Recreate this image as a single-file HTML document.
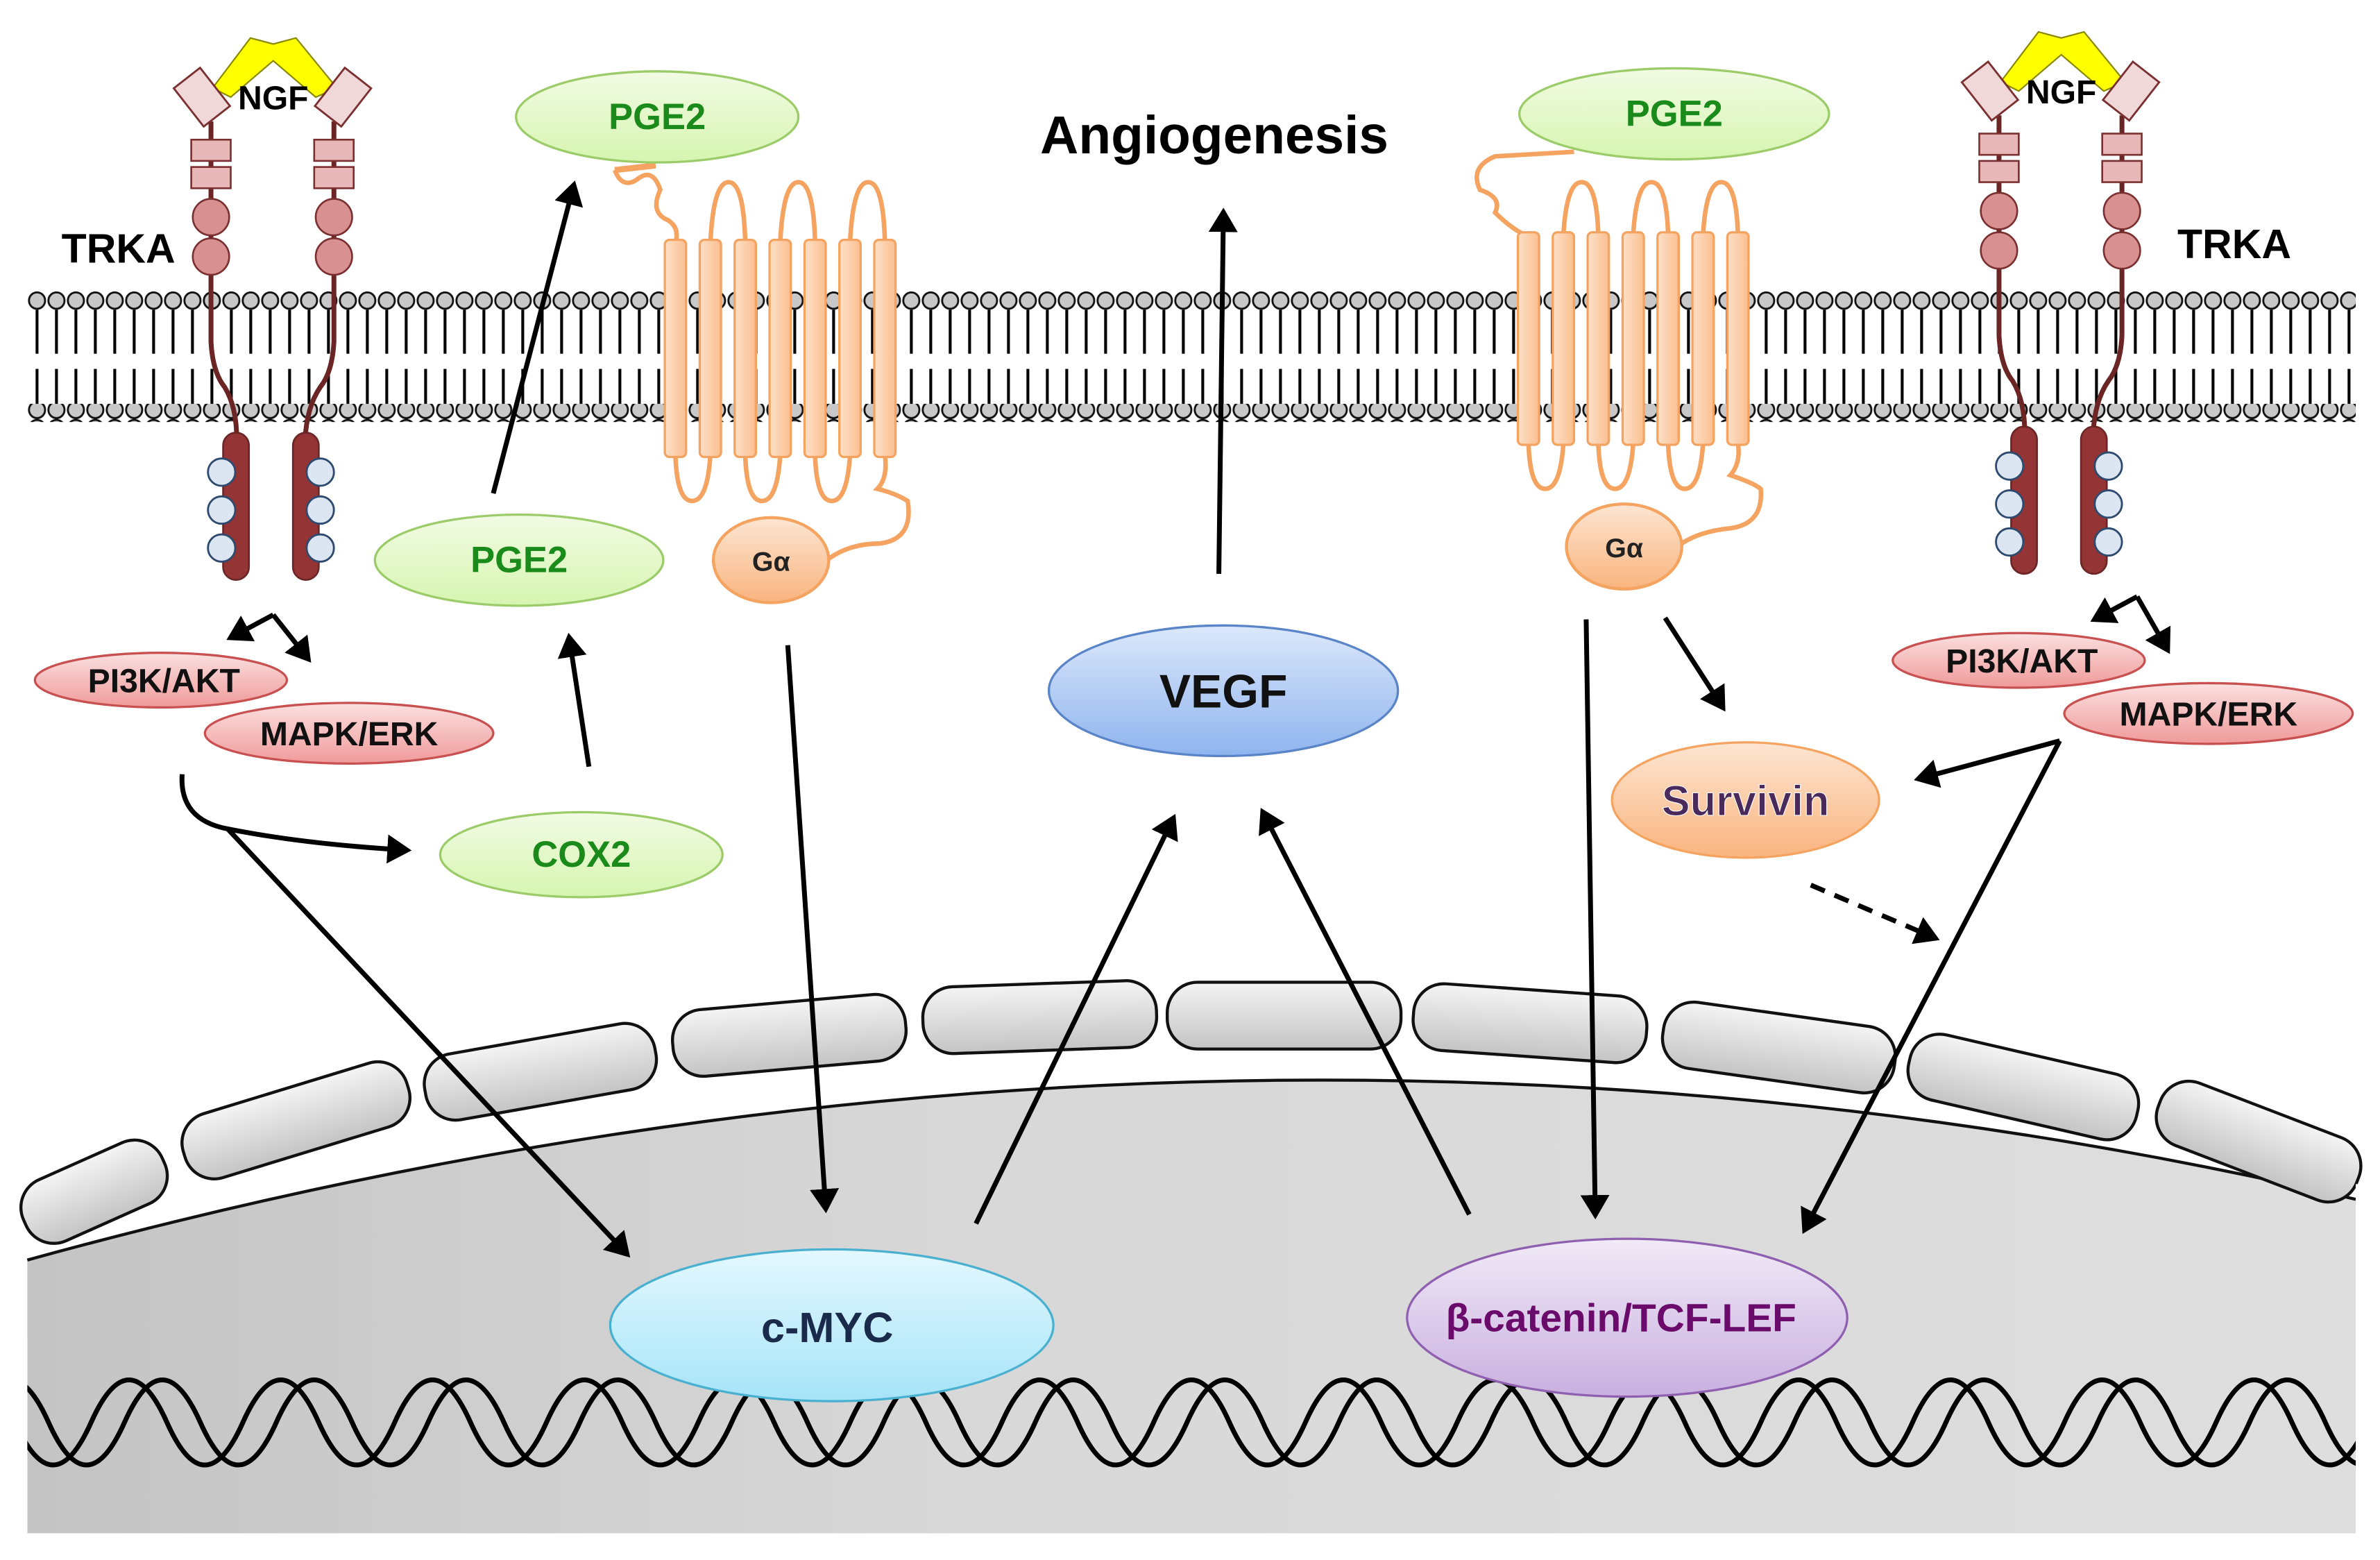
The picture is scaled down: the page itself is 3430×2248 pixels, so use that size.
<!DOCTYPE html>
<html><head><meta charset="utf-8"><style>
html,body{margin:0;padding:0;background:#fff;}
svg{display:block;}
text{font-family:"Liberation Sans",sans-serif;font-weight:bold;}
</style></head><body>
<svg width="3430" height="2248" viewBox="0 0 1568 1027.6" preserveAspectRatio="none" xmlns="http://www.w3.org/2000/svg">
<defs>
<pattern id="heads" x="18" y="192" width="12.8" height="12" patternUnits="userSpaceOnUse">
<ellipse cx="6.4" cy="6" rx="5.3" ry="5.4" fill="#c8c8c8" stroke="#111" stroke-width="1.3"/></pattern>
<pattern id="tails" x="18" y="0" width="12.8" height="200" patternUnits="userSpaceOnUse">
<line x1="6.4" y1="0" x2="6.4" y2="200" stroke="#000" stroke-width="1.9"/></pattern>
<linearGradient id="gG" x1="0" y1="0" x2="0" y2="1"><stop offset="0" stop-color="#f2fbe4"/><stop offset="1" stop-color="#d6f5b0"/></linearGradient>
<linearGradient id="gB" x1="0" y1="0" x2="0" y2="1"><stop offset="0" stop-color="#dce8fb"/><stop offset="1" stop-color="#8fb4ee"/></linearGradient>
<linearGradient id="gC" x1="0" y1="0" x2="0" y2="1"><stop offset="0" stop-color="#e4f8fe"/><stop offset="1" stop-color="#a6e4f8"/></linearGradient>
<linearGradient id="gP" x1="0" y1="0" x2="0" y2="1"><stop offset="0" stop-color="#f1eaf7"/><stop offset="1" stop-color="#c9b0e0"/></linearGradient>
<linearGradient id="gO" x1="0" y1="0" x2="0" y2="1"><stop offset="0" stop-color="#fde5d2"/><stop offset="1" stop-color="#f9b47e"/></linearGradient>
<linearGradient id="gR" x1="0" y1="0" x2="0" y2="1"><stop offset="0" stop-color="#fbe0e0"/><stop offset="1" stop-color="#f09a9a"/></linearGradient>
<linearGradient id="gOr" x1="0" y1="0" x2="1" y2="0"><stop offset="0" stop-color="#fde0c8"/><stop offset="1" stop-color="#fbbf90"/></linearGradient>
<linearGradient id="gN" x1="0" y1="0" x2="1" y2="0"><stop offset="0" stop-color="#c4c4c4"/><stop offset="0.4" stop-color="#d8d8d8"/><stop offset="1" stop-color="#dedede"/></linearGradient>
<linearGradient id="gS" x1="0" y1="0" x2="0" y2="1"><stop offset="0" stop-color="#f4f4f4"/><stop offset="1" stop-color="#c4c4c4"/></linearGradient>
<marker id="ar" markerWidth="6" markerHeight="6" refX="4" refY="3" orient="auto" markerUnits="strokeWidth"><path d="M0,0 L5,3 L0,6 Z" fill="#000"/></marker>
</defs>

<path d="M18,830 Q800,615 1552,790 L1552,1010 L18,1010 Z" fill="url(#gN)"/>
<path d="M18,830 Q800,615 1552,790" fill="none" stroke="#111" stroke-width="2"/>
<g fill="url(#gS)" stroke="#111" stroke-width="2">
<rect x="-50" y="-22" width="100" height="44" rx="20" transform="translate(62,785) rotate(-24)"/>
<rect x="-77" y="-22" width="154" height="44" rx="20" transform="translate(195,738) rotate(-17)"/>
<rect x="-77" y="-22" width="154" height="44" rx="20" transform="translate(356,706) rotate(-10)"/>
<rect x="-77" y="-22" width="154" height="44" rx="20" transform="translate(520,682) rotate(-5)"/>
<rect x="-77" y="-22" width="154" height="44" rx="20" transform="translate(685,670) rotate(-2)"/>
<rect x="-77" y="-22" width="154" height="44" rx="20" transform="translate(846,669) rotate(0)"/>
<rect x="-77" y="-22" width="154" height="44" rx="20" transform="translate(1008,674) rotate(4)"/>
<rect x="-77" y="-22" width="154" height="44" rx="20" transform="translate(1172,690) rotate(8)"/>
<rect x="-77" y="-22" width="154" height="44" rx="20" transform="translate(1333,716) rotate(13)"/>
<rect x="-70" y="-22" width="140" height="44" rx="20" transform="translate(1488,752) rotate(21)"/>
</g>
<path id="dna1" fill="none" stroke="#000" stroke-width="3.2"/>
<path id="dna2" fill="none" stroke="#000" stroke-width="3.2"/>
<rect x="0" y="1010" width="1568" height="20" fill="#fff"/>
<rect x="0" y="880" width="18" height="140" fill="#fff"/>
<rect x="1552" y="780" width="20" height="240" fill="#fff"/>

<rect x="18" y="204" width="1534" height="29" fill="url(#tails)"/>
<rect x="18" y="243" width="1534" height="25" fill="url(#tails)"/>
<rect x="18" y="192" width="1534" height="12" fill="url(#heads)"/>
<rect x="18" y="266" width="1534" height="12" fill="url(#heads)"/>

<g fill="none" stroke="#f4a460" stroke-width="3">
<path d="M405,112 Q410,125 420,118 Q430,110 435,125 Q428,140 440,145 Q448,150 445,160"/>
<path d="M468,160 Q470,120 480,120 Q490,120 491,160"/><path d="M514,160 Q516,120 526,120 Q536,120 537,160"/><path d="M560,160 Q562,120 572,120 Q582,120 583,160"/>
<path d="M445,300 Q446,330 456,330 Q466,330 468,300"/><path d="M491,300 Q492,330 502,330 Q512,330 514,300"/><path d="M537,300 Q538,330 548,330 Q558,330 560,300"/>
<path d="M583,300 Q585,315 578,322 Q590,325 598,330 Q602,355 580,358 Q560,358 546,368"/>
</g>
<path d="M405,112 L432,109" stroke="#f4a460" stroke-width="4"/>
<g fill="url(#gOr)" stroke="#f4a460" stroke-width="1.5">
<rect x="438" y="158" width="14" height="143" rx="3"/><rect x="461" y="158" width="14" height="143" rx="3"/><rect x="484" y="158" width="14" height="143" rx="3"/><rect x="507" y="158" width="14" height="143" rx="3"/><rect x="530" y="158" width="14" height="143" rx="3"/><rect x="553" y="158" width="14" height="143" rx="3"/><rect x="576" y="158" width="14" height="143" rx="3"/>
</g>
<ellipse cx="508" cy="369" rx="38" ry="28" fill="url(#gO)" stroke="#f4a460" stroke-width="2"/>
<text x="508" y="376" font-size="18" text-anchor="middle" fill="#222">Gα</text>

<g fill="none" stroke="#f4a460" stroke-width="3">
<path d="M1037,100 L985,103 Q968,110 975,125 Q990,130 985,140 Q995,150 1005,155"/>
<path d="M1030,155 Q1032,120 1042,120 Q1052,120 1053,155"/><path d="M1076,155 Q1078,120 1088,120 Q1098,120 1099,155"/><path d="M1122,155 Q1124,120 1134,120 Q1144,120 1145,155"/>
<path d="M1007,292 Q1008,322 1018,322 Q1028,322 1030,292"/><path d="M1053,292 Q1054,322 1064,322 Q1074,322 1076,292"/><path d="M1099,292 Q1100,322 1110,322 Q1120,322 1122,292"/>
<path d="M1145,292 Q1147,305 1140,313 Q1155,318 1160,322 Q1162,345 1140,348 Q1120,350 1108,358"/>
</g>
<g fill="url(#gOr)" stroke="#f4a460" stroke-width="1.5">
<rect x="1000" y="153" width="14" height="140" rx="3"/><rect x="1023" y="153" width="14" height="140" rx="3"/><rect x="1046" y="153" width="14" height="140" rx="3"/><rect x="1069" y="153" width="14" height="140" rx="3"/><rect x="1092" y="153" width="14" height="140" rx="3"/><rect x="1115" y="153" width="14" height="140" rx="3"/><rect x="1138" y="153" width="14" height="140" rx="3"/>
</g>
<ellipse cx="1070" cy="360" rx="38" ry="28" fill="url(#gO)" stroke="#f4a460" stroke-width="2"/>
<text x="1070" y="367" font-size="18" text-anchor="middle" fill="#222">Gα</text>

<g id="trkL">
<path d="M140,58 L165,25 L180,29 L195,25 L222,58 L208,64 L180,40 L152,64 Z" fill="#ffff00" stroke="#888800" stroke-width="1"/>
<g stroke="#6b2525" stroke-width="3.2" fill="none">
<path d="M139,80 L139,225 Q140,245 148,255 Q156,268 156,290"/>
<path d="M220,80 L220,225 Q219,245 211,255 Q202,268 201,290"/>
</g>
<g fill="#f0d8d8" stroke="#7a3030" stroke-width="1.3">
<rect x="-11" y="-16" width="22" height="32" transform="translate(133,64) rotate(-38)"/>
<rect x="-11" y="-16" width="22" height="32" transform="translate(226,64) rotate(38)"/>
</g>
<g fill="#e8b8b8" stroke="#7a3030" stroke-width="1.2">
<rect x="126" y="92" width="26" height="14"/><rect x="126" y="110" width="26" height="14"/>
<rect x="207" y="92" width="26" height="14"/><rect x="207" y="110" width="26" height="14"/>
</g>
<g fill="#d89090" stroke="#7a3030" stroke-width="1.2">
<ellipse cx="139" cy="143" rx="12" ry="12"/><ellipse cx="139" cy="169" rx="12" ry="12"/>
<ellipse cx="220" cy="143" rx="12" ry="12"/><ellipse cx="220" cy="169" rx="12" ry="12"/>
</g>
<g fill="#943434" stroke="#6b2525" stroke-width="1.2">
<rect x="147" y="285" width="17" height="97" rx="8.5"/><rect x="193" y="285" width="17" height="97" rx="8.5"/>
</g>
<g fill="#dce6f2" stroke="#2e4a6e" stroke-width="1.3">
<circle cx="146" cy="311" r="9"/><circle cx="146" cy="336" r="9"/><circle cx="146" cy="361" r="9"/>
<circle cx="211" cy="311" r="9"/><circle cx="211" cy="336" r="9"/><circle cx="211" cy="361" r="9"/>
</g>
<text x="180" y="72" font-size="22" text-anchor="middle" fill="#000">NGF</text>
</g>
<text x="78" y="173" font-size="27" text-anchor="middle" fill="#000">TRKA</text>
<use href="#trkL" transform="translate(1178,-4)"/>
<text x="1472" y="170" font-size="27" text-anchor="middle" fill="#000">TRKA</text>

<g stroke-width="1.5">
<ellipse cx="433" cy="77" rx="93" ry="30" fill="url(#gG)" stroke="#9ccc6a"/>
<ellipse cx="342" cy="369" rx="95" ry="30" fill="url(#gG)" stroke="#9ccc6a"/>
<ellipse cx="383" cy="563" rx="93" ry="28" fill="url(#gG)" stroke="#9ccc6a"/>
<ellipse cx="1103" cy="75" rx="102" ry="30" fill="url(#gG)" stroke="#9ccc6a"/>
<ellipse cx="806" cy="455" rx="115" ry="43" fill="url(#gB)" stroke="#5a84c8"/>
<ellipse cx="1150" cy="527" rx="88" ry="38" fill="url(#gO)" stroke="#f4a460"/>
<ellipse cx="106" cy="448" rx="83" ry="18" fill="url(#gR)" stroke="#c85050"/>
<ellipse cx="230" cy="483" rx="95" ry="20" fill="url(#gR)" stroke="#c85050"/>
<ellipse cx="1330" cy="435" rx="83" ry="18" fill="url(#gR)" stroke="#c85050"/>
<ellipse cx="1455" cy="470" rx="95" ry="20" fill="url(#gR)" stroke="#c85050"/>
<ellipse cx="548" cy="873" rx="146" ry="50" fill="url(#gC)" stroke="#4ab0d0"/>
<ellipse cx="1072" cy="868" rx="145" ry="52" fill="url(#gP)" stroke="#9060b0"/>
</g>
<g font-size="24" fill="#1a8a1a" text-anchor="middle">
<text x="433" y="85">PGE2</text><text x="342" y="377">PGE2</text><text x="383" y="571">COX2</text><text x="1103" y="83">PGE2</text>
</g>
<text x="806" y="466" font-size="31" text-anchor="middle" fill="#111">VEGF</text>
<text x="1150" y="537" font-size="28" text-anchor="middle" fill="#4a2a5a" stroke="#fff" stroke-width="0.5">Survivin</text>
<g font-size="22" fill="#111" text-anchor="middle">
<text x="108" y="456">PI3K/AKT</text><text x="230" y="491">MAPK/ERK</text><text x="1332" y="443">PI3K/AKT</text><text x="1455" y="478">MAPK/ERK</text>
</g>
<text x="545" y="884" font-size="28" text-anchor="middle" fill="#1a2a4a">c-MYC</text>
<text x="1068" y="877" font-size="26" text-anchor="middle" fill="#6a0a6a">β-catenin/TCF-LEF</text>
<text x="800" y="101" font-size="35" text-anchor="middle" fill="#000">Angiogenesis</text>

<g stroke="#000" stroke-width="3.2" fill="none" marker-end="url(#ar)">
<path d="M180,405 L152,420"/>
<path d="M180,405 L203,434"/>
<path d="M1408,393 L1380,408"/>
<path d="M1408,393 L1428,428"/>
<path d="M120,510 Q118,540 150,546 Q200,556 268,560"/>
<path d="M150,546 L413,826"/>
<path d="M388,505 L375,420"/>
<path d="M325,325 L378,122"/>
<path d="M803,378 L806,140"/>
<path d="M519,425 L544,796"/>
<path d="M643,806 L773,539"/>
<path d="M968,800 L832,535"/>
<path d="M1045,408 L1051,800"/>
<path d="M1097,407 L1135,466"/>
<path d="M1357,488 L1264,513"/>
<path d="M1357,488 L1189,810"/>
<path d="M1193,583 L1275,618" stroke-dasharray="10,7"/>
</g>
<script>
function sine(off){var s="M"+(-40+off)+",937 q25,-56 50,0";for(var j=0;j<34;j++)s+=" t50,0";return s;}
document.getElementById("dna1").setAttribute("d",sine(0));
document.getElementById("dna2").setAttribute("d",sine(22));
</script>
</svg>
</body></html>
